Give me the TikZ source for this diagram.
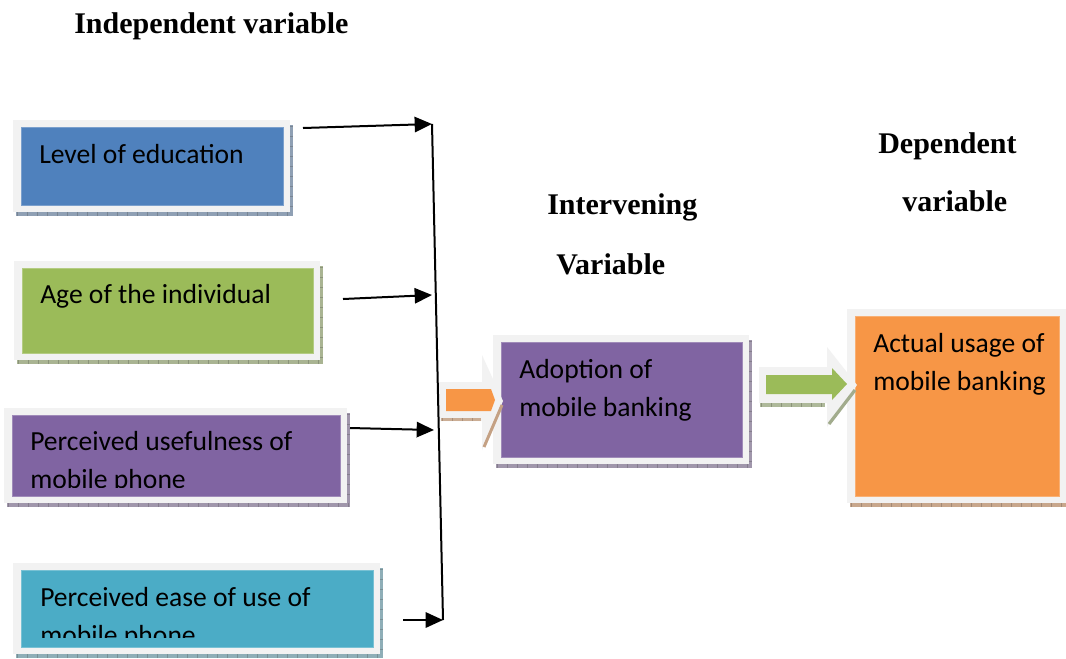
\documentclass[tikz,border=0pt]{standalone}
\usepackage{fontspec}
\setmainfont{Liberation Serif}
\newfontfamily\boxfont{Carlito}
\usetikzlibrary{arrows.meta,fit}

\definecolor{edublue}{HTML}{4F81BD}
\definecolor{agegreen}{HTML}{9BBB59}
\definecolor{usepurple}{HTML}{8064A2}
\definecolor{easeaqua}{HTML}{4BACC6}
\definecolor{usageorange}{HTML}{F79646}
\definecolor{framegray}{HTML}{F2F2F2}

\newcommand\twolines[2]{\begin{tabular}[t]{@{}l@{}}#1\\#2\end{tabular}}

% framed panel: name, x1, y1, x2, y2, colour
\newcommand\modelpanel[6]{%
  \fill[#6!45!gray!75!white] (#2+3,#5) rectangle (#4+3,#5+4);
  \fill[#6!45!gray!75!white] (#4,#3+5) rectangle (#4+3,#5+4);
  \draw[#6!40!black!60!white, line width=3pt, dash pattern=on 0.5pt off 7pt]
    (#2+4,#5+2) -- (#4+3,#5+2);
  \draw[#6!40!black!60!white, line width=2.2pt, dash pattern=on 0.5pt off 7pt]
    (#4+1.5,#3+6) -- (#4+1.5,#5);
  \fill[framegray] (#2,#3) rectangle (#4,#5);
  \node[fit={(#2+8,#3+7) (#4-7,#5-7)}, inner sep=0pt, fill=#6,
        draw=#6!75!white, line width=0.4pt] (#1) {};
}

\tikzset{
  heading/.style={font=\bfseries\fontsize{22.5}{26}\selectfont, anchor=base west, inner sep=0pt},
  boxtext/.style={font=\boxfont\fontsize{20.7}{29}\selectfont, anchor=base west, inner sep=0pt},
  conn/.style={line width=1.5pt, -{Triangle[length=13pt,width=11.5pt]}},
  bus/.style={line width=1.5pt},
}

\begin{document}
\begin{tikzpicture}[x=0.75pt,y=-0.75pt]
\useasboundingbox[fill=white] (0,0) rectangle (1066,658);

% headings
\node[heading] (indep) at (74,33) {Independent variable};
\node[heading] (interv1) at (547,214) {Intervening};
\node[heading] (interv2) at (556,274) {Variable};
\node[heading] (dep1) at (878,153) {Dependent};
\node[heading] (dep2) at (902,211) {variable};

% independent variables
\modelpanel{edu}{13}{120}{290}{212}{edublue}
\node[boxtext] (eduText) at (39,163) {Level of education};

\modelpanel{age}{14}{261}{320}{360}{agegreen}
\node[boxtext] (ageText) at (40,303) {Age of the individual};

\modelpanel{useful}{4}{408}{347}{503}{usepurple}
\begin{scope}
  \clip (12,416) rectangle (339,487);
  \node[boxtext] (usefulText) at (30,450) {\twolines{Perceived usefulness of}{mobile phone}};
\end{scope}

\modelpanel{ease}{13}{563}{380}{654}{easeaqua}
\begin{scope}
  \clip (21,570) rectangle (373,637);
  \node[boxtext] (easeText) at (40,606) {\twolines{Perceived ease of use of}{mobile phone}};
\end{scope}

% intervening and dependent variables
\modelpanel{adopt}{493}{335}{749}{464}{usepurple}
\node[boxtext] (adoptText) at (519,378) {\twolines{Adoption of}{mobile banking}};

\modelpanel{usage}{847}{309}{1066}{503}{usageorange}
\node[boxtext] (usageText) at (873,352) {\twolines{Actual usage of}{mobile banking}};

% block arrow into the intervening variable
\fill[framegray] (438,382) -- (482,382) -- (482,355) -- (503,401) -- (482,450)
  -- (482,421) -- (438,421) -- cycle;
\fill[usageorange!45!gray!70!white] (441,418) rectangle (481,421);
\draw[usageorange!45!black!60!white, line width=2.2pt, dash pattern=on 0.5pt off 7pt]
  (442,419.5) -- (481,419.5);
\draw[usageorange!45!gray!80!white, line width=2.2pt] (484,447) -- (502,405);
\fill[usageorange] (446,389) -- (491,389) -- (495,400) -- (491,411) -- (446,411) -- cycle;

% block arrow into the dependent variable
\fill[framegray] (759,367) -- (827,367) -- (827,347) -- (857,385) -- (827,427)
  -- (827,403) -- (759,403) -- cycle;
\fill[agegreen!45!gray!70!white] (760,403) rectangle (825,407);
\draw[agegreen!40!black!60!white, line width=2.5pt, dash pattern=on 0.5pt off 7pt]
  (761,405) -- (825,405);
\draw[agegreen!40!gray!80!white, line width=2.4pt] (829,424) -- (855,390);
\fill[agegreen] (766,375) -- (832,375) -- (832,368) -- (847,384) -- (832,400)
  -- (832,394) -- (766,394) -- cycle;

% connectors gathering the independent variables
\coordinate (busTop) at (432,124);
\coordinate (busBot) at (443,620);
\coordinate (eduOut) at (303,128);
\coordinate (ageOut) at (343,299);
\coordinate (ageIn) at (432,295);
\coordinate (usefulOut) at (350,428);
\coordinate (usefulIn) at (434,430);
\coordinate (easeOut) at (403,620);

\draw[bus] (busTop) -- (busBot);
\draw[conn] (eduOut) -- (busTop);
\draw[conn] (ageOut) -- (ageIn);
\draw[conn] (usefulOut) -- (usefulIn);
\draw[conn] (easeOut) -- (busBot);
\end{tikzpicture}
\end{document}
